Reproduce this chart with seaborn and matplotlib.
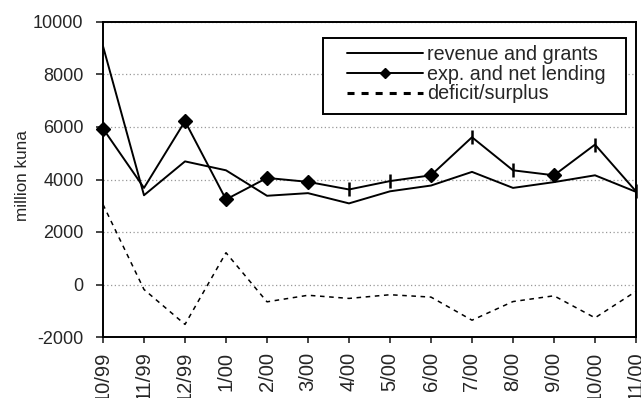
import matplotlib
matplotlib.use("Agg")
import matplotlib.pyplot as plt
import seaborn as sns
import pandas as pd
import numpy as np
from matplotlib.lines import Line2D
from matplotlib.patches import Rectangle

months = ["10/99", "11/99", "12/99", "1/00", "2/00", "3/00", "4/00", "5/00",
          "6/00", "7/00", "8/00", "9/00", "10/00", "11/00"]
revenue = [9080, 3400, 4690, 4350, 3380, 3480, 3090, 3550, 3770, 4290, 3680, 3900, 4160, 3530]
expenditure = [5940, 3680, 6220, 3240, 4060, 3910, 3620, 3940, 4160, 5610, 4350, 4160, 5330, 3550]
deficit = [3050, -190, -1520, 1210, -660, -410, -530, -390, -480, -1360, -650, -430, -1270, -260]
exp_markers = ["D", "", "D", "D", "D", "D", "|", "|", "D", "|", "|", "D", "|", "|"]
series_names = ["revenue and grants", "exp. and net lending", "deficit/surplus"]

sns.set_style("white")
plt.rcParams["font.family"] = ["Liberation Sans", "DejaVu Sans"]
plt.rcParams["axes.unicode_minus"] = False

df = pd.DataFrame({"pos": np.arange(len(months)), "month": months,
                   "revenue": revenue, "exp": expenditure, "deficit": deficit,
                   "mk": exp_markers})

fig = plt.figure(figsize=(6.41, 3.98), dpi=100)
ax = fig.add_axes([103/641, 1 - 337/398, (636 - 103)/641, (337 - 22)/398])

sns.lineplot(data=df, x="pos", y="revenue", ax=ax, color="black", lw=1.4)
sns.lineplot(data=df, x="pos", y="exp", ax=ax, color="black", lw=1.4)
sns.lineplot(data=df, x="pos", y="deficit", ax=ax, color="black", lw=1.1,
             linestyle=(0, (3, 3)))

d = df[df["mk"] == "D"]
ax.plot(d["pos"], d["exp"], linestyle="none", marker="D", ms=7, color="black", clip_on=False)
v = df[df["mk"] == "|"]
ax.plot(v["pos"], v["exp"], linestyle="none", marker="|", ms=10, mew=1.8, color="black", clip_on=False)

ax.set_xlim(0, len(months) - 1)
ax.set_ylim(-2000, 10000)
ax.set_yticks(np.arange(-2000, 10001, 2000))
ax.set_xticks(df["pos"])
ax.set_xticklabels(months, rotation=90, fontsize=14.5, va="top")
ax.tick_params(axis="y", labelsize=13, direction="out", length=5, width=1.2, pad=9, left=True)
ax.tick_params(axis="x", direction="out", length=4.5, width=1.2, pad=6, bottom=True)
ax.set_xlabel("")
ax.set_ylabel("million kuna", fontsize=12.3)
ax.yaxis.set_label_coords(-0.137, 0.514)
ax.yaxis.grid(True, color="#999999", linestyle=(0, (1, 2)), lw=0.9)
ax.xaxis.grid(False)
for s in ax.spines.values():
    s.set_color("black")
    s.set_linewidth(1.4)

# legend box
ax.add_patch(Rectangle((0.4128, 0.708), 0.981 - 0.4128, 0.949 - 0.708,
                       transform=ax.transAxes, fill=True, facecolor="white",
                       edgecolor="black", lw=1.4, zorder=5))
handles = [Line2D([], [], color="black", lw=1.4),
           Line2D([], [], color="black", lw=1.4, marker="D", ms=5),
           Line2D([], [], color="black", lw=2.2, linestyle=(0, (2.3, 2.3)))]
leg = ax.legend(handles, series_names,
                loc="upper left", bbox_to_anchor=(0.4578, 0.926), frameon=False,
                fontsize=14.2, handlelength=3.85, borderpad=0,
                labelspacing=0.03, handletextpad=0.2, borderaxespad=0)
leg.set_zorder(6)

fig.savefig("out.png", dpi=100)
